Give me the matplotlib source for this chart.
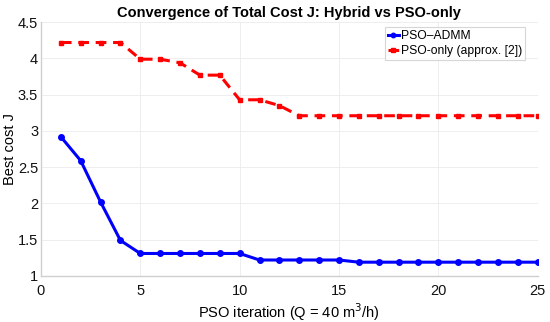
import matplotlib
matplotlib.use("Agg")
import matplotlib.pyplot as plt

plt.rcParams['font.family'] = ['Liberation Sans', 'DejaVu Sans']

iterations = list(range(1, 26))
pso_admm = [2.92, 2.59, 2.02, 1.49, 1.31, 1.31, 1.31, 1.31, 1.31, 1.31,
            1.22, 1.22, 1.22, 1.22, 1.22, 1.19, 1.19, 1.19, 1.19, 1.19,
            1.19, 1.19, 1.19, 1.19, 1.19]
pso_only = [4.22, 4.22, 4.22, 4.22, 3.99, 3.99, 3.94, 3.77, 3.77, 3.43,
            3.43, 3.35, 3.21, 3.21, 3.21, 3.21, 3.21, 3.21, 3.21, 3.21,
            3.21, 3.21, 3.21, 3.21, 3.21]
xticks = [0, 5, 10, 15, 20, 25]
yticks = [1, 1.5, 2, 2.5, 3, 3.5, 4, 4.5]
ytick_labels = ['1', '1.5', '2', '2.5', '3', '3.5', '4', '4.5']

fig = plt.figure(figsize=(5.5, 3.22), dpi=100)
ax = fig.add_axes([0.0745, 0.143, 0.903, 0.788])

ax.plot(iterations, pso_admm, '-o', color='#0000ff', lw=2.2, ms=4, label='PSO–ADMM')
ax.plot(iterations, pso_only, '--s', color='#ff0000', lw=2.2, ms=3.5, dashes=(3.5, 2.2),
        label='PSO-only (approx. [2])')

ax.set_xlim(0, 25)
ax.set_ylim(1, 4.5)
ax.set_xticks(xticks)
ax.set_yticks(yticks)
ax.set_yticklabels(ytick_labels)
ax.grid(True, color='#ebebeb', lw=0.6)
ax.set_axisbelow(True)
for s in ['top', 'right']:
    ax.spines[s].set_visible(False)
for s in ['left', 'bottom']:
    ax.spines[s].set_color('#cfcfcf')
    ax.spines[s].set_linewidth(1.0)
ax.tick_params(axis='both', labelsize=10.5, length=0, colors='#cfcfcf', labelcolor='#111111')
ax.tick_params(axis='y', pad=2)
ax.tick_params(axis='x', pad=6)

ax.set_title('Convergence of Total Cost J: Hybrid vs PSO-only', fontsize=10.5,
             fontweight='bold', pad=4)
ax.set_xlabel('PSO iteration (Q = 40 m$^3$/h)', fontsize=10.5, labelpad=2)
ax.set_ylabel('Best cost J', fontsize=10.5, labelpad=1)

leg = ax.legend(loc='upper right', bbox_to_anchor=(0.975, 0.982), fontsize=8.7,
                frameon=True, fancybox=False, edgecolor='#cccccc',
                handlelength=0.9, handletextpad=0.2, borderpad=0.25,
                labelspacing=0.25, borderaxespad=0.0, markerscale=0.8)
leg.get_frame().set_linewidth(0.8)

fig.savefig('out.png', dpi=100)
